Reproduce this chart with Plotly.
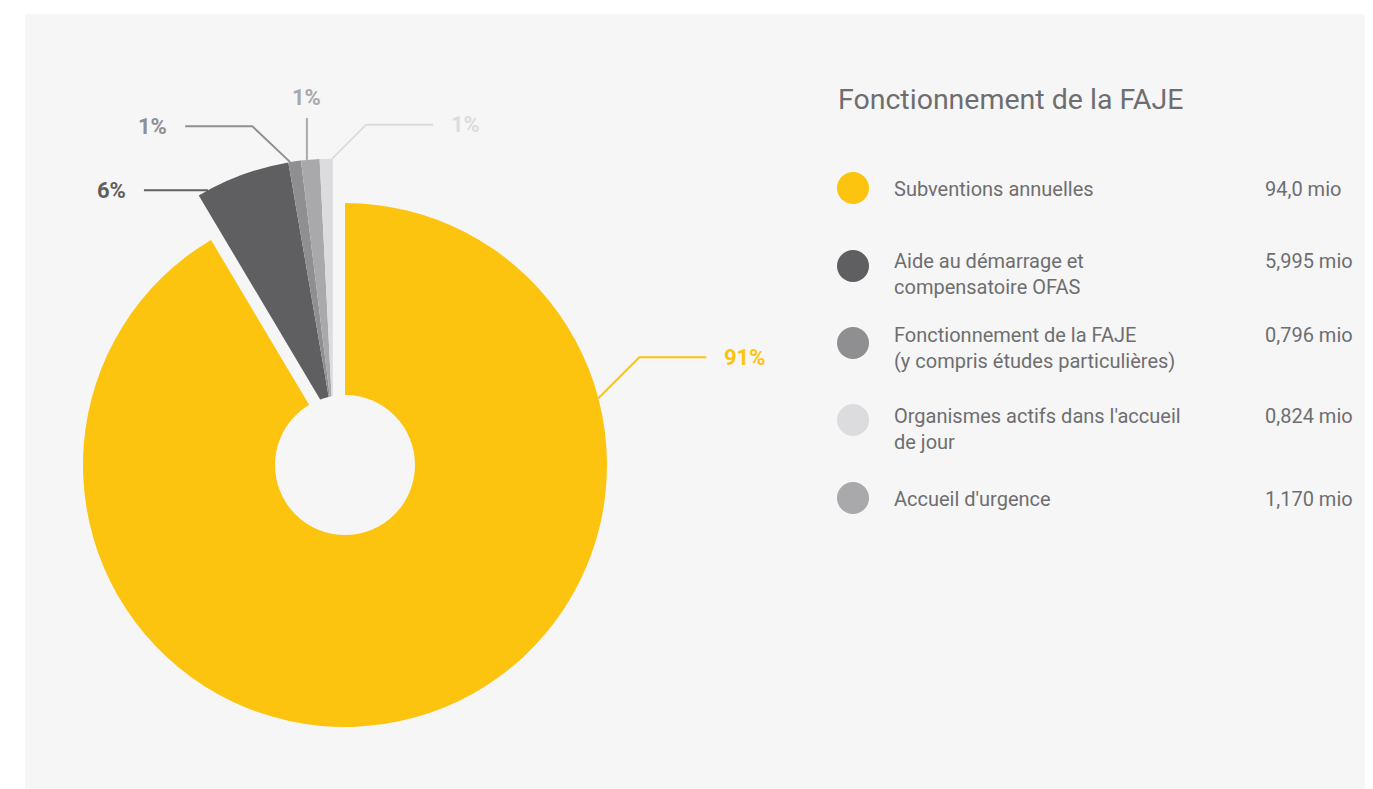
import math
import plotly.graph_objects as go

# ---------------- data ----------------
categories = [
    "Subventions annuelles",
    "Aide au démarrage et compensatoire OFAS",
    "Fonctionnement de la FAJE (y compris études particulières)",
    "Organismes actifs dans l'accueil de jour",
    "Accueil d'urgence",
]
values_mio = [94.0, 5.995, 0.796, 0.824, 1.170]
value_labels = ["94,0 mio", "5,995 mio", "0,796 mio", "0,824 mio", "1,170 mio"]
legend_lines = [
    ["Subventions annuelles"],
    ["Aide au démarrage et", "compensatoire OFAS"],
    ["Fonctionnement de la FAJE", "(y compris études particulières)"],
    ["Organismes actifs dans l'accueil", "de jour"],
    ["Accueil d'urgence"],
]
legend_title = "Fonctionnement de la FAJE"
slice_order = [0, 1, 2, 4, 3]  # clockwise order of slices from 12 o'clock

# ---------------- style / layout ----------------
colors = ["#fdc40f", "#5f5f61", "#8f8f91", "#dcdcde", "#a9a9ab"]
BG = "#f6f6f6"
TEXT = "#6e6e70"
FONT = "Roboto"
W, H = 1373, 789
OFF = 8  # page body margin compensation (screen = figure + OFF)
CX, CY, R = 345.0, 465.0, 262.0  # pie centre / radius in screen pixels
HOLE_R = 70.0
PULL_PX = 46.0  # distance the grey group is pulled out

# label connector layout (per category, legend order)
conn = [
    dict(frac=0.2285, leg=(41, -41), h=67),
    dict(frac=0.11, leg=(0, 0), h=-64),
    dict(frac=0.15, leg=(-38, -36), h=-67),
    dict(frac=0.95, leg=(34, -34), h=67),
    dict(frac=0.32, leg=(0, -42), h=0),
]
legend_circle_y = [188, 266, 343, 420, 498]
legend_line1_y = [189, 261, 335, 416, 499]
LINE_GAP = 26.5
LEG_CIRCLE_X, LEG_TEXT_X, LEG_VALUE_X = 853, 892, 1263

# ---------------- derived geometry ----------------
total = sum(values_mio)
pct_labels = [f"{round(v / total * 100)}%" for v in values_mio]
ordered_vals = [values_mio[i] for i in slice_order]
ordered_cols = [colors[i] for i in slice_order]
ordered_names = [categories[i] for i in slice_order]

angles = {}
acc = 0.0
for i in slice_order:
    span = values_mio[i] / total * 360.0
    angles[i] = (acc, span)
    acc += span

grey_start = angles[slice_order[1]][0]
grey_mid = (grey_start + 360.0) / 2.0
sx = PULL_PX * math.sin(math.radians(grey_mid))
sy = -PULL_PX * math.cos(math.radians(grey_mid))


def dom(cx, cy, r):
    cx, cy = cx - OFF, cy - OFF
    return dict(x=[(cx - r) / W, (cx + r) / W], y=[1 - (cy + r) / H, 1 - (cy - r) / H])


fig = go.Figure()

fig.add_trace(go.Pie(
    values=ordered_vals, labels=ordered_names, sort=False, direction="clockwise", rotation=0,
    marker=dict(colors=[c if k == 0 else "rgba(0,0,0,0)" for k, c in enumerate(ordered_cols)],
                line=dict(width=0)),
    textinfo="none", hoverinfo="label+value", showlegend=False,
    domain=dom(CX, CY, R),
))
fig.add_trace(go.Pie(
    values=ordered_vals, labels=ordered_names, sort=False, direction="clockwise", rotation=0,
    marker=dict(colors=["rgba(0,0,0,0)" if k == 0 else c for k, c in enumerate(ordered_cols)],
                line=dict(width=0)),
    textinfo="none", hoverinfo="label+value", showlegend=False,
    domain=dom(CX + sx, CY + sy, R),
))
fig.add_trace(go.Pie(
    values=[1], labels=[""], sort=False, marker=dict(colors=[BG], line=dict(width=0)),
    textinfo="none", hoverinfo="skip", showlegend=False,
    domain=dom(CX, CY, HOLE_R),
))

annotations = []
for i in range(len(values_mio)):
    start, span = angles[i]
    a = math.radians(start + conn[i]["frac"] * span)
    ox, oy = (CX, CY) if i == 0 else (CX + sx, CY + sy)
    px, py = ox + R * math.sin(a), oy - R * math.cos(a)
    ex, ey = px + conn[i]["leg"][0], py + conn[i]["leg"][1]
    fx = ex + conn[i]["h"]
    fig.add_trace(go.Scatter(x=[px, ex, fx], y=[py, ey, ey], mode="lines",
                             line=dict(color=colors[i], width=2),
                             hoverinfo="skip", showlegend=False))
    f = dict(family=FONT, size=22, color=colors[i])
    txt = f"<b>{pct_labels[i]}</b>"
    if conn[i]["h"] > 0:
        annotations.append(dict(x=fx + 16, y=ey, text=txt, xanchor="left", yanchor="middle",
                                showarrow=False, font=f))
    elif conn[i]["h"] < 0:
        annotations.append(dict(x=fx - 16, y=ey, text=txt, xanchor="right", yanchor="middle",
                                showarrow=False, font=f))
    else:
        annotations.append(dict(x=ex, y=ey - 6, text=txt, xanchor="center", yanchor="bottom",
                                showarrow=False, font=f))

fig.add_trace(go.Scatter(
    x=[LEG_CIRCLE_X] * len(categories), y=legend_circle_y, mode="markers",
    marker=dict(size=32, color=colors, line=dict(width=0)),
    text=categories, hoverinfo="text", showlegend=False,
))

annotations.append(dict(x=836, y=100, text=legend_title, xanchor="left", yanchor="middle",
                        showarrow=False, font=dict(family=FONT, size=28.5, color=TEXT)))
for i, lines in enumerate(legend_lines):
    for j, t in enumerate(lines):
        annotations.append(dict(x=LEG_TEXT_X, y=legend_line1_y[i] + j * LINE_GAP, text=t,
                                xanchor="left", yanchor="middle", showarrow=False,
                                font=dict(family=FONT, size=20, color=TEXT)))
    annotations.append(dict(x=LEG_VALUE_X, y=legend_line1_y[i], text=value_labels[i],
                            xanchor="left", yanchor="middle", showarrow=False,
                            font=dict(family=FONT, size=20, color=TEXT)))

for a in annotations:
    a["xref"] = "x"
    a["yref"] = "y"

fig.update_layout(
    width=W, height=H, margin=dict(l=0, r=0, t=0, b=0),
    paper_bgcolor="white", plot_bgcolor=BG,
    xaxis=dict(domain=[(25 - OFF) / W, 1], range=[25, W + OFF], visible=False, fixedrange=True),
    yaxis=dict(domain=[0, 1 - (14 - OFF) / H], range=[H + OFF, 14], visible=False, fixedrange=True),
    annotations=annotations,
    showlegend=False,
)

fig.write_html("out.html")
